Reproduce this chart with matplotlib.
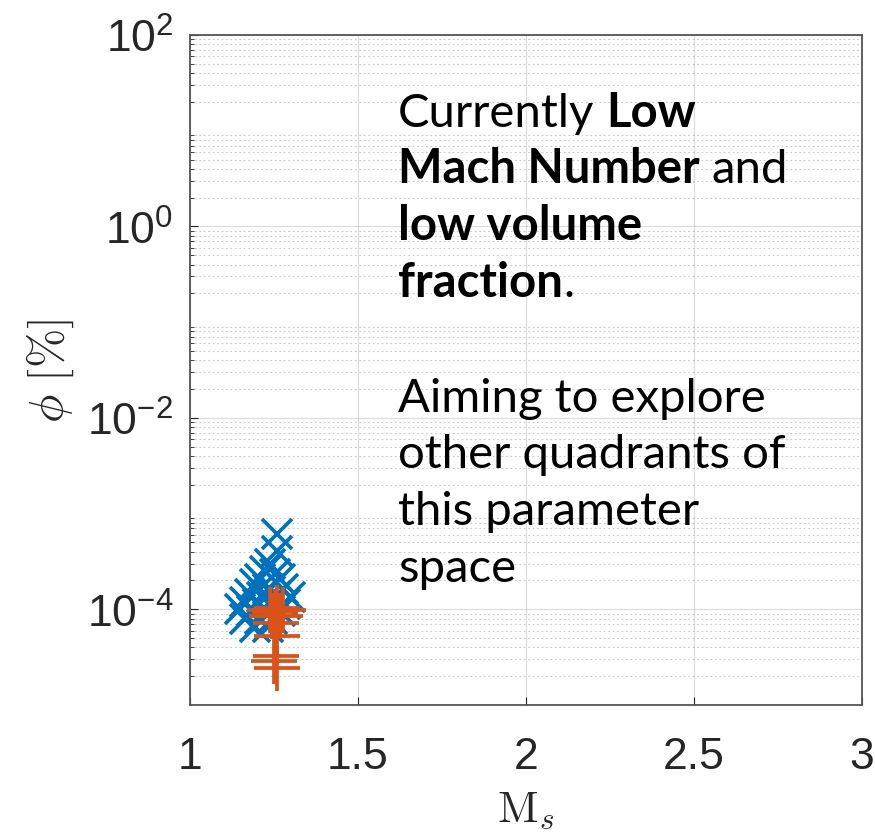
import matplotlib
matplotlib.use("Agg")
import matplotlib.pyplot as plt
import numpy as np
from matplotlib.ticker import LogLocator, NullFormatter

plt.rcParams["mathtext.fontset"] = "cm"
plt.rcParams["font.family"] = ["Liberation Sans", "DejaVu Sans"]

# blue "x" series (Mach number, volume fraction %)
blue_ms = [1.259, 1.259, 1.238, 1.223, 1.253, 1.208, 1.268, 1.193, 1.232, 1.277,
           1.179, 1.214, 1.253, 1.164, 1.202, 1.238, 1.283, 1.149, 1.185, 1.223,
           1.268, 1.164, 1.208, 1.244, 1.193, 1.232, 1.298]
blue_phi = [6.1e-4, 4.1e-4, 3.0e-4, 2.5e-4, 2.33e-4, 2.07e-4, 2.07e-4, 1.83e-4, 1.63e-4, 1.63e-4,
            1.44e-4, 1.34e-4, 1.34e-4, 1.19e-4, 1.13e-4, 1.13e-4, 1.13e-4, 1.0e-4, 9.6e-5, 9.6e-5,
            9.6e-5, 7.9e-5, 7.9e-5, 7.9e-5, 6.5e-5, 6.5e-5, 1.34e-4]

# orange "+" series
orange_ms = [1.259, 1.253, 1.268, 1.244, 1.277, 1.238, 1.256, 1.259, 1.256, 1.250, 1.259]
orange_phi = [1.03e-4, 9.35e-5, 8.5e-5, 8.5e-5, 9.8e-5, 9.8e-5, 7.2e-5, 5.25e-5, 3.24e-5, 2.88e-5, 2.43e-5]

xticks = [1, 1.5, 2, 2.5, 3]
xticklabels = ["1", "1.5", "2", "2.5", "3"]

W, H = 875, 837
fig = plt.figure(figsize=(W / 100, H / 100), dpi=100)
fig.patch.set_facecolor("white")
ax = fig.add_axes([190 / W, 1 - 706 / H, 672 / W, 670 / H])

ax.plot(blue_ms, blue_phi, "x", color="#0072BD", ms=22, mew=2.7, linestyle="none")
ax.plot(orange_ms, orange_phi, "+", color="#D95319", ms=33, mew=2.7, linestyle="none")

ax.set_yscale("log")
ax.set_xlim(1, 3)
ax.set_ylim(1e-5, 1e2)
ax.set_xticks(xticks)
ax.set_xticklabels(xticklabels)
ax.set_yticks([1e-4, 1e-2, 1e0, 1e2])
ax.yaxis.set_minor_locator(LogLocator(base=10, subs=np.arange(2, 10), numticks=20))
ax.yaxis.set_minor_formatter(NullFormatter())

dark = "#262626"
ax.grid(True, which="major", color="#262626", alpha=0.15, lw=0.9)
ax.grid(True, which="minor", axis="y", color="#262626", alpha=0.25, lw=0.8, linestyle=(0, (1.5, 2.5)))
ax.set_axisbelow(True)
for s in ax.spines.values():
    s.set_color("#555555")
    s.set_linewidth(1.3)
ax.tick_params(which="both", direction="in", top=False, right=False, colors=dark)
ax.tick_params(which="major", length=6, labelsize=32, labelcolor=dark)
ax.tick_params(axis="x", which="major", pad=22)
ax.tick_params(axis="y", which="major", pad=12)
ax.tick_params(which="minor", length=3)

ax.set_xlabel(r"$\mathrm{M}_s$", fontsize=32, color=dark, labelpad=9)
ax.set_ylabel(r"$\phi\ [\%]$", fontsize=34, color=dark, labelpad=8)

# annotation text with mixed weights
fs = 34
fam = ["Lato", "DejaVu Sans"]
x0 = 398
lines = [
    (127, [("Currently ", "normal"), ("Low", "bold")]),
    (183, [("Mach Number", "bold"), (" and", "normal")]),
    (240, [("low volume", "bold")]),
    (297, [("fraction", "bold"), (".", "normal")]),
    (412, [("Aiming to explore", "normal")]),
    (468, [("other quadrants of", "normal")]),
    (525, [("this parameter", "normal")]),
    (582, [("space", "normal")]),
]

renderer = fig.canvas.get_renderer()
probe = fig.text(0, 0, "a a", fontsize=fs, family=fam)
w1 = probe.get_window_extent(renderer).width
probe.set_text("aa")
space_w = w1 - probe.get_window_extent(renderer).width
probe.remove()

for y_px, parts in lines:
    x = x0
    for s, w in parts:
        lead = len(s) - len(s.lstrip(" "))
        trail = len(s) - len(s.rstrip(" "))
        x += lead * space_w
        t = fig.text(x / W, 1 - y_px / H, s.strip(" "), fontsize=fs, family=fam,
                     fontweight=w, color="black", va="baseline", ha="left")
        x = t.get_window_extent(renderer).x1 + trail * space_w

fig.savefig("out.png", dpi=100, facecolor="white")
